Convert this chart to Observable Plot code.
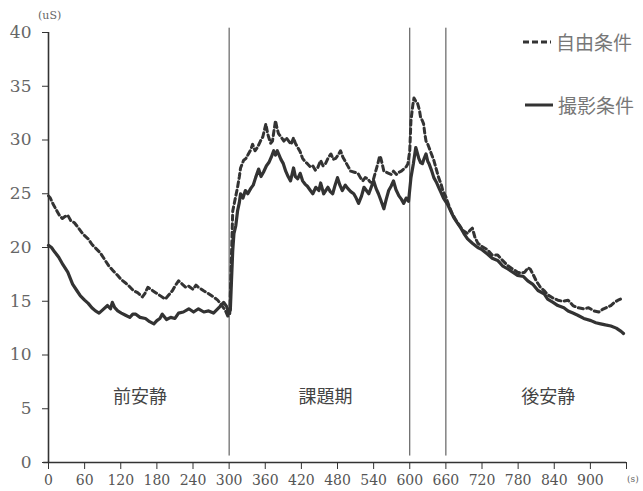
<!DOCTYPE html>
<html><head><meta charset="utf-8">
<script src="https://cdn.jsdelivr.net/npm/d3@7"></script>
<script src="https://cdn.jsdelivr.net/npm/@observablehq/plot@0.6"></script>
<style>
body{margin:0;background:#fff;}
#wrap{position:relative;width:643px;height:491px;}
.lg{position:absolute;font-family:"Noto Sans CJK JP";font-size:19px;color:#777;display:flex;align-items:center;white-space:nowrap;}
.unit{position:absolute;font-family:"DejaVu Serif";color:#666;}
</style></head><body><div id="wrap"></div>
<script>
// 自由条件 (dashed)
const freeT = [0,3,8,13,18,23,28,32,37,43,50,58,66,72,79,86,93,100,108,115,121,128,134,141,148,156,160,165,170,178,186,194,200,206,211,216,222,228,233,240,245,249,257,266,274,281,288,294,298,301,303,306,310,314,317,319,324,328,332,336,339,343,347,352,356,361,364,366,369,372,377,380,382,386,391,395,399,403,407,410,414,418,422,426,430,435,439,443,447,452,456,460,465,469,473,477,481,485,489,494,498,502,508,514,518,522,526,530,534,538,542,547,550,552,555,557,561,565,569,573,578,582,586,590,594,597,600,602,605,607,610,613,616,618,621,623,625,627,630,632,636,640,644,648,652,655,660,665,670,676,682,688,696,700,704,708,713,720,729,737,746,754,763,771,779,785,791,796,800,804,810,817,823,829,838,846,854,863,871,879,889,897,906,914,922,930,934,940,946,950];
const freeV = [24.8,24.6,24.0,23.5,23.0,22.7,22.9,23.0,22.5,22.3,21.8,21.2,20.8,20.3,19.9,19.5,18.9,18.3,17.8,17.4,17.0,16.7,16.4,16.0,15.8,15.4,15.7,16.3,16.1,15.8,15.5,15.2,15.6,16.0,16.5,16.9,16.6,16.3,16.4,16.1,16.5,16.3,16.0,15.7,15.4,15.1,14.6,14.1,13.6,13.8,17.5,23.4,24.5,25.6,26.6,27.4,28.1,28.3,28.7,29.1,29.6,29.0,29.3,29.9,30.3,31.5,30.6,30.2,29.7,29.9,31.8,31.0,30.6,30.3,29.9,30.2,29.9,29.6,30.2,29.7,29.3,28.9,28.3,28.0,27.8,27.5,27.6,27.2,27.4,28.1,27.6,27.8,28.4,28.7,28.2,28.3,28.6,29.0,28.4,27.9,27.5,27.1,27.0,26.9,26.5,26.2,26.5,26.4,26.1,26.0,26.8,27.8,28.5,28.3,27.6,27.1,27.0,26.9,26.8,27.1,26.8,27.0,27.1,27.3,27.5,27.8,29.0,31.8,33.2,33.9,33.6,33.4,32.8,32.1,31.8,31.5,30.6,29.9,29.6,29.3,28.7,28.1,27.3,26.5,25.9,25.3,24.7,23.9,23.2,22.6,22.1,21.6,21.3,21.6,21.8,21.0,20.4,20.1,19.8,19.3,19.3,18.8,18.3,18.0,17.7,17.6,17.7,18.1,18.0,17.6,16.9,16.3,16.0,15.6,15.3,15.1,15.0,15.1,14.6,14.4,14.3,14.4,14.1,14.0,14.3,14.5,14.6,14.9,15.1,15.2];
// 撮影条件 (solid)
const shootT = [0,5,10,17,24,32,40,47,53,60,66,72,78,84,90,98,103,106,110,115,121,128,135,140,145,152,161,168,175,180,185,189,196,203,210,216,224,233,241,249,258,266,274,283,291,296,299,302,304,306,308,311,314,317,319,323,327,331,336,340,344,349,353,357,362,366,370,374,377,380,386,390,394,398,402,407,410,414,418,422,426,430,435,439,444,449,452,457,464,468,472,476,480,484,488,493,497,502,507,511,515,520,524,528,532,536,540,544,548,552,557,561,565,569,573,577,582,586,590,594,598,602,606,610,615,618,621,624,627,630,632,636,640,644,648,652,656,663,668,673,679,685,690,696,704,713,720,729,737,746,754,763,771,779,789,796,804,813,823,829,838,846,856,863,871,879,889,901,909,917,925,934,943,951,955];
const shootV = [20.2,20.0,19.6,19.1,18.4,17.7,16.6,16.0,15.5,15.1,14.8,14.4,14.1,13.9,14.2,14.6,14.3,14.9,14.4,14.1,13.9,13.7,13.5,13.8,13.8,13.5,13.4,13.1,12.9,13.2,13.4,13.8,13.3,13.5,13.4,13.9,14.0,14.3,14.0,14.3,14.0,14.1,13.9,14.4,14.9,14.5,13.9,14.2,17.0,19.7,21.3,22.0,23.4,24.2,25.0,24.6,25.3,25.0,25.5,25.8,26.5,27.3,26.6,27.0,27.6,27.9,28.4,29.0,28.6,29.0,28.2,27.8,27.1,26.6,26.2,27.4,26.6,26.4,26.9,26.2,25.9,25.7,25.3,25.0,25.6,25.3,26.0,25.0,25.6,25.2,25.0,25.8,26.5,25.8,25.3,25.8,25.5,25.2,25.0,24.6,24.1,24.8,25.6,25.3,25.0,25.6,26.2,25.5,25.0,24.4,23.6,24.5,25.3,25.7,26.2,25.4,24.8,24.5,24.1,24.6,24.3,26.5,27.8,29.3,28.3,27.9,27.8,28.3,28.7,28.0,27.8,27.2,26.5,26.1,25.6,25.1,24.6,24.0,23.4,22.8,22.3,21.8,21.3,20.8,20.4,20.0,19.8,19.4,19.0,18.8,18.3,18.0,17.7,17.4,17.3,16.9,16.6,16.0,15.7,15.2,14.9,14.6,14.4,14.1,13.9,13.7,13.4,13.2,13.0,12.9,12.8,12.7,12.5,12.2,12.0];

const xTicks = d3.range(0, 961, 60);
const yTicks = [0, 5, 10, 15, 20, 25, 30, 35, 40];
const phaseBounds = [300, 600, 660];
const phaseNames = ["前安静", "課題期", "後安静"];
const phaseCenters = [152, 460, 830];
const seriesNames = ["自由条件", "撮影条件"];

const free = freeT.map((t, i) => ({t, v: freeV[i]}));
const shoot = shootT.map((t, i) => ({t, v: shootV[i]}));
const phases = phaseNames.map((name, i) => ({name, t: phaseCenters[i]}));

const chart = Plot.plot({
  width: 643,
  height: 491,
  marginLeft: 48,
  marginRight: 17,
  marginTop: 32,
  marginBottom: 29,
  style: {background: "#fff", overflow: "visible"},
  x: {domain: [0, 960]},
  y: {domain: [0, 40]},
  marks: [
    Plot.axisY({ticks: yTicks, tickSize: 6, tickPadding: 11, fontSize: 17, fontFamily: "DejaVu Serif", fill: "#666", stroke: "#333", label: null}),
    Plot.axisX({ticks: xTicks, tickSize: 7, tickPadding: 6, fontSize: 14, fontFamily: "DejaVu Serif", fill: "#555", stroke: "#333", label: null,
      tickFormat: d => d === 960 ? "" : String(d)}),
    Plot.ruleX([0], {y1: 0, y2: 40, stroke: "#333", strokeWidth: 1.6}),
    Plot.ruleY([0], {x1: -8, x2: 960, stroke: "#333", strokeWidth: 1.6}),
    Plot.ruleX(phaseBounds, {y1: 0.6, y2: 40.4, stroke: "#444", strokeWidth: 1}),
    Plot.line(shoot, {x: "t", y: "v", stroke: "#333", strokeWidth: 3.2, strokeLinejoin: "round"}),
    Plot.line(free, {x: "t", y: "v", stroke: "#333", strokeWidth: 3, strokeDasharray: "5,3.5"}),
    Plot.text(phases, {x: "t", y: 6.1, text: "name", fontSize: 18, fontFamily: "Noto Sans CJK JP", fill: "#444"})
  ]
});
const wrap = document.getElementById("wrap");
wrap.appendChild(chart);

function legendItem(top, left, dash, name) {
  const d = document.createElement("div");
  d.className = "lg";
  d.style.top = top + "px";
  d.style.left = left + "px";
  d.innerHTML = `<svg width="30" height="8" style="margin-right:4px"><line x1="1" y1="4" x2="29" y2="4" stroke="#333" stroke-width="3" ${dash ? 'stroke-dasharray="6,3"' : ''}/></svg><span>${name}</span>`;
  wrap.appendChild(d);
}
legendItem(28, 522, true, seriesNames[0]);
legendItem(91, 524, false, seriesNames[1]);

const u = document.createElement("div");
u.className = "unit"; u.style.left = "38px"; u.style.top = "9px"; u.style.fontSize = "11px"; u.textContent = "(uS)";
wrap.appendChild(u);
const s = document.createElement("div");
s.className = "unit"; s.style.left = "627px"; s.style.top = "474px"; s.style.fontSize = "9px"; s.textContent = "(s)";
wrap.appendChild(s);
</script></body></html>
